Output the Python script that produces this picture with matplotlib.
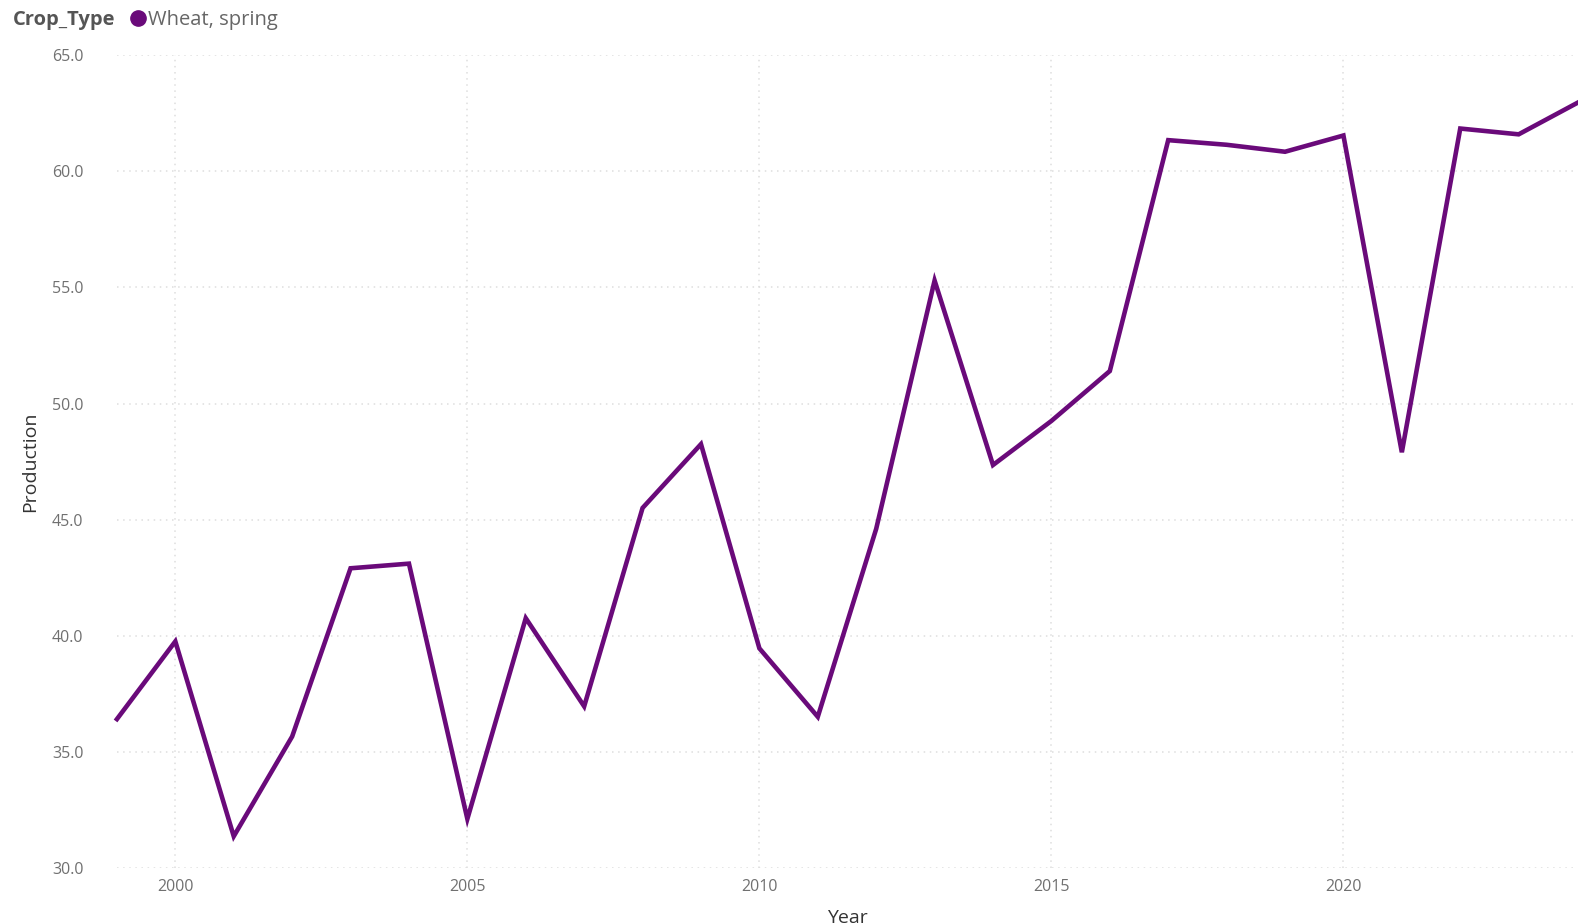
import matplotlib.pyplot as plt
from matplotlib.lines import Line2D
from matplotlib.ticker import FormatStrFormatter

years = list(range(1999, 2025))
production = [36.4, 39.75, 31.35, 35.65, 42.9, 43.1, 32.1, 40.75, 36.95, 45.5,
              48.25, 39.45, 36.5, 44.6, 55.3, 47.35, 49.25, 51.4, 61.35, 61.15,
              60.85, 61.55, 47.9, 61.85, 61.6, 62.95]
series_name = 'Wheat, spring'
legend_title = 'Crop_Type'
xticks = [2000, 2005, 2010, 2015, 2020]
yticks = [30, 35, 40, 45, 50, 55, 60, 65]

plt.rcParams['font.family'] = ['Open Sans', 'DejaVu Sans']
purple = '#6a0a7a'

fig = plt.figure(figsize=(15.78, 9.24), dpi=100)
ax = fig.add_axes([0.0741, 0.061, 0.9253, 0.879])
ax.plot(years, production, color=purple, lw=3.3, solid_joinstyle='miter', clip_on=False)

ax.set_xlim(1999, 2024)
ax.set_ylim(30, 65)
ax.set_xticks(xticks)
ax.set_yticks(yticks)
ax.yaxis.set_major_formatter(FormatStrFormatter('%.1f'))
ax.grid(True, color='#dedede', linestyle=(0, (1, 3)), lw=1.1)
ax.set_axisbelow(True)
for s in ax.spines.values():
    s.set_visible(False)
ax.tick_params(length=0, labelsize=11.5, labelcolor='#707070')
ax.tick_params(axis='x', pad=8)
ax.tick_params(axis='y', pad=24)
ax.set_xlabel('Year', fontsize=14, color='#333333', labelpad=10)
ax.set_ylabel('Production', fontsize=14, color='#333333', labelpad=9)

fig.text(0.008, 0.978, legend_title, fontsize=14.5, fontweight='bold', color='#555555', va='center')
h = Line2D([], [], marker='o', color=purple, linestyle='none', markersize=11)
fig.legend([h], [series_name], loc='center left', bbox_to_anchor=(0.081, 0.978), frameon=False,
           handletextpad=0.0, handlelength=1.0, borderpad=0, borderaxespad=0,
           prop={'size': 14.5}, labelcolor='#666666')

fig.savefig('out.png', dpi=100)
